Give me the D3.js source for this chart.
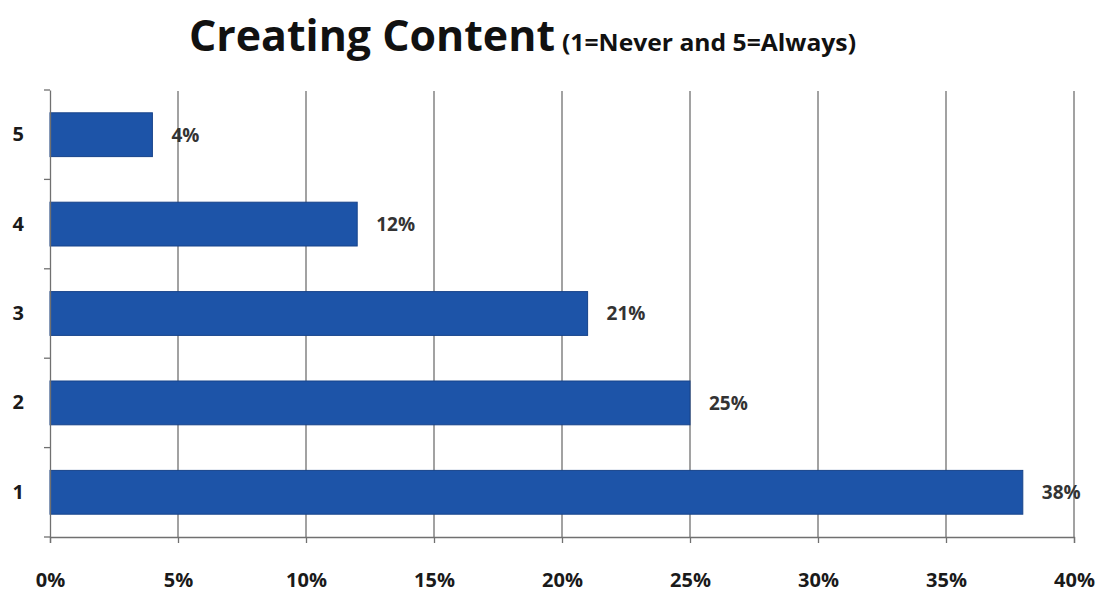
<!DOCTYPE html>
<html><head><meta charset="utf-8">
<script src="https://cdn.jsdelivr.net/npm/d3@7"></script>
<style>body{margin:0;background:#fff}svg{display:block}text{font-family:"Open Sans",Lato,sans-serif;font-weight:bold}</style>
</head><body><svg id="c" width="1107" height="593"></svg>
<script>
const categories = ["5","4","3","2","1"];
const values = [4,12,21,25,38];
const xTicks = [0,5,10,15,20,25,30,35,40];
const title = "Creating Content";
const subtitle = "(1=Never and 5=Always)";

const svg = d3.select("#c");
const m = {l:50, r:33, t:90, b:56};
const W = 1107, H = 593;
const x = d3.scaleLinear().domain([0,40]).range([m.l, W-m.r]);
const y = d3.scaleBand().domain(categories).range([m.t, H-m.b]).paddingInner(0.51).paddingOuter(0.255);
const grey = "#707070";

// title
svg.append("text").attr("x", 189).attr("y", 51).attr("fill","#111")
  .attr("font-size",43).attr("textLength",366).attr("lengthAdjust","spacingAndGlyphs").text(title);
svg.append("text").attr("x", 562).attr("y", 51).attr("fill","#111")
  .attr("font-size",23).attr("textLength",294).attr("lengthAdjust","spacingAndGlyphs").text(subtitle);

// gridlines
svg.append("g").selectAll("line").data(xTicks.slice(1)).join("line")
  .attr("x1",d=>x(d)).attr("x2",d=>x(d)).attr("y1",m.t+1).attr("y2",H-m.b)
  .attr("stroke",grey).attr("stroke-width",1.3);

// bars
svg.append("g").selectAll("rect").data(values).join("rect")
  .attr("x", x(0)).attr("y",(d,i)=>y(categories[i]))
  .attr("width", d=>x(d)-x(0)).attr("height", y.bandwidth())
  .attr("fill","#1d54a8").attr("stroke","#17438a").attr("stroke-width",1);

// value labels
svg.append("g").selectAll("text").data(values).join("text")
  .attr("x", d=>x(d)+19).attr("y",(d,i)=>y(categories[i])+y.bandwidth()/2)
  .attr("dy","0.36em").attr("font-size",19).attr("fill","#333")
  .text(d=>d+"%");

// x axis
const xa = svg.append("g").attr("transform",`translate(0,${H-m.b})`)
  .call(d3.axisBottom(x).tickValues(xTicks).tickFormat(d=>d+"%").tickSize(6));
xa.select(".domain").attr("stroke",grey).attr("stroke-width",1.3);
xa.selectAll(".tick line").attr("stroke",grey).attr("stroke-width",1.3);
xa.selectAll("text").attr("y",50).attr("dy",0).attr("font-size",20).attr("fill","#1a1a1a")
  .attr("font-family","'Open Sans',sans-serif").attr("font-weight","bold");

// y axis
const ya = svg.append("g").attr("transform",`translate(${m.l},0)`)
  .call(d3.axisLeft(y).tickSize(0).tickPadding(26));
ya.select(".domain").attr("stroke",grey).attr("stroke-width",1.3);
ya.selectAll("text").attr("font-size",20).attr("fill","#1a1a1a")
  .attr("font-family","'Open Sans',sans-serif").attr("font-weight","bold");
// boundary ticks
const bounds = d3.range(categories.length+1).map(i=>m.t + i*(H-m.b-m.t)/categories.length);
ya.selectAll("line.b").data(bounds).join("line").attr("class","b")
  .attr("x1",-6).attr("x2",0).attr("y1",d=>d).attr("y2",d=>d)
  .attr("stroke",grey).attr("stroke-width",1.3);
</script></body></html>
